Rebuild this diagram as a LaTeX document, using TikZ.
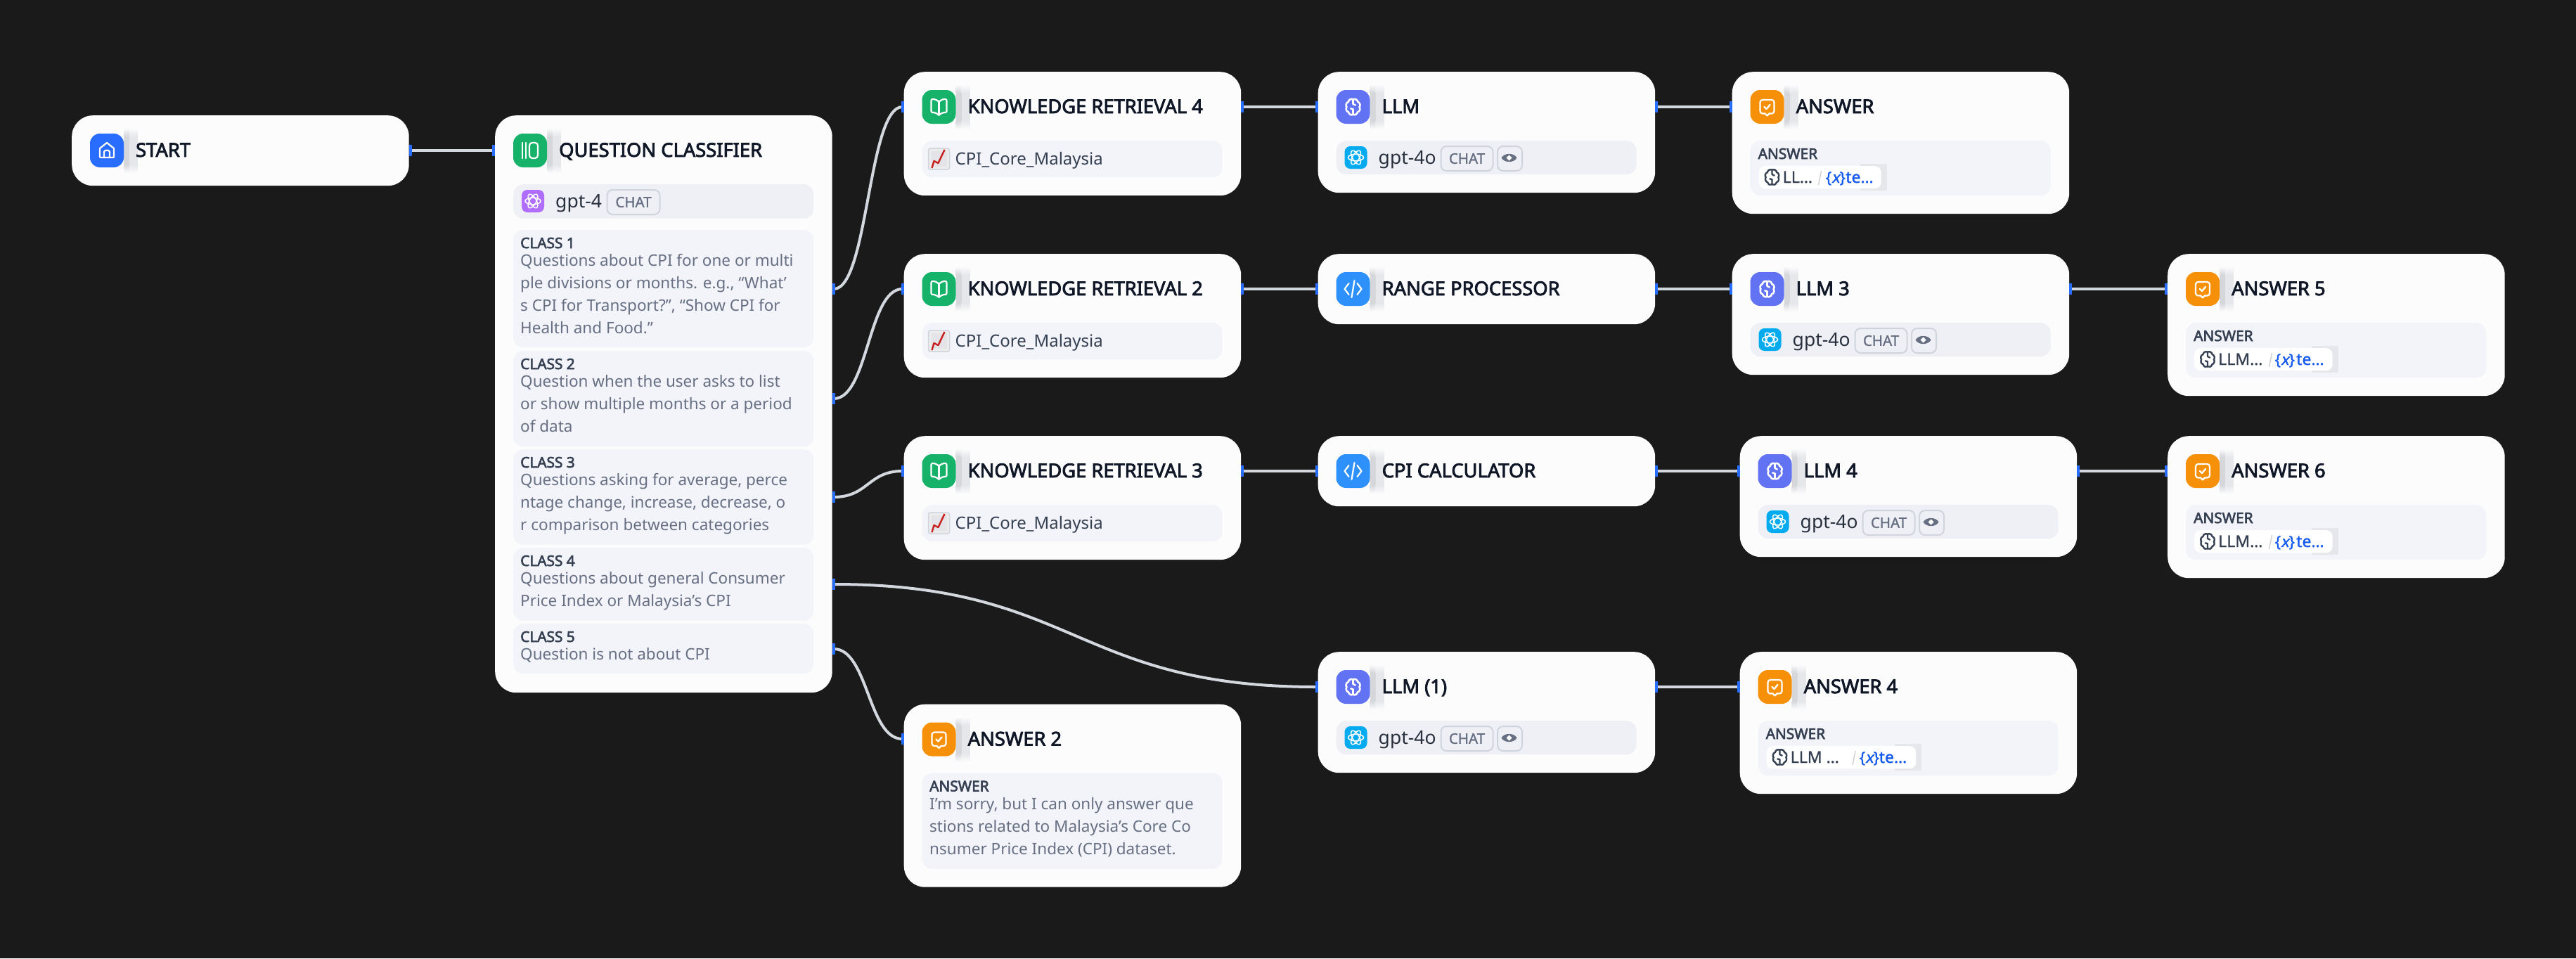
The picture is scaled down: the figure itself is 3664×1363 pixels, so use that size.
\documentclass[tikz,border=0pt]{standalone}
\usepackage{fontspec}
\setmainfont{Noto Sans}
\newfontfamily\semifont{Noto Sans}[FakeBold=3]
\newfontfamily\medfont{Noto Sans}[FakeBold=1.2]
\newfontfamily\slantfont{Noto Sans}[FakeSlant=0.2,FakeBold=1.2]
\usetikzlibrary{calc,backgrounds}
\definecolor{canvas}{HTML}{1A1A1A}
\definecolor{cardc}{HTML}{FCFCFD}
\definecolor{boxc}{HTML}{F3F4F9}
\definecolor{rowc}{HTML}{EFF0F5}
\definecolor{titlec}{HTML}{101828}
\definecolor{labelc}{HTML}{354052}
\definecolor{bodyc}{HTML}{676F83}
\definecolor{wirec}{HTML}{D3D7DE}
\definecolor{handlec}{HTML}{296DFF}
\definecolor{bordc}{HTML}{D0D5DD}
\definecolor{varc}{HTML}{155AEF}
\definecolor{icblue}{HTML}{296DFF}
\definecolor{icgreen}{HTML}{17B26A}
\definecolor{icindigo}{HTML}{6172F3}
\definecolor{iccode}{HTML}{2E90FA}
\definecolor{icorange}{HTML}{F79009}
\definecolor{icpurple}{HTML}{B06EFF}
\definecolor{icsky}{HTML}{02ABF0}
\definecolor{chartred}{HTML}{C8201E}
\definecolor{shadea}{HTML}{D5D7DB}
\definecolor{shadeb}{HTML}{E6E7EA}
\tikzset{
  cardnode/.style={fill=cardc,rounded corners=30pt,minimum width=479.5pt,anchor=north west,inner sep=0pt},
  boxnode/.style={fill=boxc,rounded corners=14pt,minimum width=427pt,anchor=north west,inner sep=0pt},
  rownode/.style={boxnode,fill=rowc},
  iconnode/.style={rounded corners=14pt,minimum width=48pt,minimum height=48pt,inner sep=0pt},
  smallicon/.style={rounded corners=8pt,minimum width=32pt,minimum height=32pt,inner sep=0pt},
  titletext/.style={anchor=base west,inner sep=0pt,text=titlec,font=\fontsize{27.3}{30}\semifont\selectfont},
  labeltext/.style={anchor=base west,inner sep=0pt,text=labelc,font=\fontsize{20.8}{24}\semifont\selectfont},
  bodytext/.style={anchor=north west,inner sep=0pt,align=left,text=bodyc,font=\fontsize{22.5}{32}\selectfont},
  modeltext/.style={anchor=base west,inner sep=0pt,text=titlec!90!white,font=\fontsize{26.5}{30}\selectfont},
  dbtext/.style={anchor=base west,inner sep=0pt,text=labelc,font=\fontsize{24}{30}\selectfont},
  badge/.style={draw=bordc,line width=2pt,rounded corners=8pt,fill=rowc,anchor=north west,inner sep=0pt,minimum height=35pt,text=bodyc,font=\fontsize{20.5}{24}\medfont\selectfont},
  chipnode/.style={fill=white,rounded corners=9pt,anchor=north west,inner sep=0pt,minimum height=32pt},
  handle/.style={fill=handlec,minimum width=4pt,minimum height=16pt,inner sep=0pt},
  wire/.style={draw=wirec,line width=4pt},
  glyph/.style={draw=white,line width=2.2pt,line cap=round,line join=round},
}
% connector: bezier with both control points half-way across
\newcommand\conn[2]{\draw[wire] (#1.center) .. controls ($(#1.center)!0.5!(#2.center |- #1.center)$) and ($(#2.center)!0.5!(#1.center |- #2.center)$) .. (#2.center);}
% glyphs, centred at local origin
\newcommand\ghome{\draw[glyph] (0,-11) -- (-10,-3) -- (-10,8) .. controls (-10,10) .. (-8,10) -- (8,10) .. controls (10,10) .. (10,8) -- (10,-3) -- cycle; \draw[glyph] (-4,10) -- (-4,2) .. controls (-4,-1) and (4,-1) .. (4,2) -- (4,10);}
\newcommand\gclass{\draw[glyph] (-11,-11) -- (-11,11) (-6,-11) -- (-6,11); \draw[glyph,rounded corners=4pt] (-1,-11) rectangle (11,11);}
\newcommand\gbook{\draw[glyph,rounded corners=2pt] (0,-7) -- (-5,-11) -- (-11,-11) -- (-11,8) -- (-5,8) -- (0,12) -- (5,8) -- (11,8) -- (11,-11) -- (5,-11) -- cycle; \draw[glyph] (0,-7) -- (0,12);}
\newcommand\gbrainpath[1]{\draw[#1] (0,-13) .. controls (-5,-15) and (-8,-11) .. (-8,-9) .. controls (-13,-7) and (-13,-1) .. (-11,0) .. controls (-13,3) and (-12,8) .. (-8,9) .. controls (-7,13) and (-3,15) .. (0,13) .. controls (3,15) and (7,13) .. (8,9) .. controls (12,8) and (13,3) .. (11,0) .. controls (13,-1) and (13,-7) .. (8,-9) .. controls (8,-11) and (5,-15) .. (0,-13) -- cycle; \draw[#1] (0,-13) -- (0,-5) -- (4,-3) (-4,3) -- (0,4) -- (0,13);}
\newcommand\gbrain{\begin{scope}[scale=0.82]\gbrainpath{glyph,line width=2.6pt}\end{scope}}
\newcommand\gcode{\draw[glyph] (-6,-8) -- (-12,0) -- (-6,8) (6,-8) -- (12,0) -- (6,8) (2,-12) -- (-2,12);}
\newcommand\ganswer{\draw[glyph,rounded corners=3.5pt] (-3,9.5) -- (-10,9.5) -- (-10,-10) -- (10,-10) -- (10,9.5) -- (3,9.5); \draw[glyph] (-3,9.5) -- (0,12.5) -- (3,9.5); \draw[glyph,line width=2.4pt] (-4,0) -- (-1,3) -- (4,-3);}
\newcommand\gknot{\foreach \a in {0,60,120}{\draw[white,line width=1.5pt,rotate=\a] (0,0) ellipse [x radius=11,y radius=4.8];}}
\newcommand\gdb{\draw[bordc,fill=gray!15,rounded corners=3pt,line width=1.5pt] (-15,-15) rectangle (15,15);
  \fill[white!85!blue!40!gray!30] (-11,-11) rectangle (11,11);
  \draw[chartred,line width=2.4pt,line join=round] (-10,13) -- (-7,3) -- (-1,6) -- (8,-13);}
% the soft band beside an icon, fading at both ends
\newcommand\softband[3]{\shade[top color=cardc,bottom color=#3,draw=none] (#1,18) rectangle (#2,30);
  \fill[#3] (#1,30) rectangle (#2,70);
  \shade[top color=#3,bottom color=cardc,draw=none] (#1,70) rectangle (#2,82);}
% card: name, x, y, height, icon colour, glyph, title
\newcommand\cardbox[7]{\node[cardnode,minimum height=#4pt] (#1) at (#2,#3) {};
  \begin{scope}[shift={(#2,#3)}]
  \softband{74}{82}{shadea}\softband{82}{94}{shadeb}
  \node[iconnode,fill=#5] (#1-icon) at (50,50) {};
  \begin{scope}[shift={(50,50)}] #6 \end{scope}
  \node[titletext] (#1-title) at (91,59) {#7};
  \end{scope}}
\newcommand\handleat[3]{\node[handle] (#1) at (#2,#3) {};}
% knowledge row
\newcommand\dbrow[3]{\begin{scope}[shift={(#2,#3)}]
  \node[boxnode,minimum height=52pt] (#1-row) at (26,98) {};
  \begin{scope}[shift={(50,124)}] \gdb \end{scope}
  \node[dbtext] (#1-db) at (73,132) {CPI\_Core\_Malaysia};
  \end{scope}}
% model row with eye badge
\newcommand\llmrow[3]{\begin{scope}[shift={(#2,#3)}]
  \node[rownode,minimum height=48pt] (#1-row) at (26,98) {};
  \node[smallicon,fill=icsky] (#1-micon) at (54,122) {};
  \begin{scope}[shift={(54,122)}] \gknot \end{scope}
  \node[modeltext] (#1-model) at (86,131) {gpt-4o};
  \node[badge,minimum width=74pt] (#1-chat) at (174,105) {CHAT};
  \node[badge,minimum width=35pt] (#1-eye) at (254.5,105) {};
  \fill[bodyc] (261,122.5) .. controls (265,115) and (279,115) .. (283,122.5) .. controls (279,130) and (265,130) .. (261,122.5) -- cycle;
  \fill[white] (272,118.5) -- (276,122.5) -- (272,126.5) -- (268,122.5) -- cycle;
  \end{scope}}
% answer row: name, x, y, chip width, text, slash x, var x, te x
\newcommand\ansrow[8]{\begin{scope}[shift={(#2,#3)}]
  \node[boxnode,minimum height=78pt] (#1-row) at (26,98) {};
  \node[labeltext] (#1-label) at (37,124) {ANSWER};
  \fill[shadeb] (#4-30,131) rectangle (#4+8,169);
  \node[chipnode,minimum width=#4pt-38pt] (#1-chip) at (38,134) {};
  \begin{scope}[shift={(57,150)},scale=0.8] \gbrainpath{draw=labelc,line width=2.4pt,line cap=round,line join=round} \end{scope}
  \node[anchor=base west,inner sep=0pt,text=labelc,font=\fontsize{23}{28}\medfont\selectfont] (#1-var) at (72,158) {#5};
  \draw[gray!35,line width=1.5pt] (#6+2,141) -- (#6-2,161);
  \node[anchor=base west,inner sep=0pt,text=varc,font=\fontsize{22}{28}\medfont\selectfont] (#1-x) at (#7,158) {\{{\slantfont x}\}};
  \node[anchor=base west,inner sep=0pt,text=varc,font=\fontsize{23}{28}\medfont\selectfont] (#1-te) at (#8,158) {te…};
  \end{scope}}
\begin{document}
\begin{tikzpicture}[x=1pt,y=-1pt]
\useasboundingbox (0,0) rectangle (3664,1363);
\begin{scope}[on background layer]
\fill[canvas] (0,0) rectangle (3664,1363);
\end{scope}

% ---- START
\cardbox{start}{102}{164}{100}{icblue}{\ghome}{START}
\handleat{startout}{584}{214}

% ---- QUESTION CLASSIFIER
\cardbox{qc}{704}{164}{821}{icgreen}{\gclass}{QUESTION CLASSIFIER}
\handleat{qcin}{702}{214}
\begin{scope}[shift={(704,164)}]
  \node[rownode,minimum height=48.5pt] (qc-row) at (26,98) {};
  \node[smallicon,fill=icpurple] (qc-micon) at (54,122) {};
  \begin{scope}[shift={(54,122)}] \gknot \end{scope}
  \node[modeltext] (qc-model) at (86,131) {gpt-4};
  \node[badge,minimum width=75pt] (qc-chat) at (158.5,105) {CHAT};
\end{scope}
\node[boxnode,minimum height=167pt] (c1) at (730,327) {};
\node[labeltext] (c1l) at (740,353) {CLASS 1};
\node[bodytext] (c1t) at (740,356) {\strut Questions about CPI for one or multi\\\strut ple divisions or months. e.g., “What’\\\strut s CPI for Transport?”, “Show CPI for\\\strut Health and Food.”};
\node[boxnode,minimum height=136pt] (c2) at (730,499) {};
\node[labeltext] (c2l) at (740,525) {CLASS 2};
\node[bodytext] (c2t) at (740,528) {\strut Question when the user asks to list\\\strut or show multiple months or a period\\\strut of data};
\node[boxnode,minimum height=135.5pt] (c3) at (730,639) {};
\node[labeltext] (c3l) at (740,665) {CLASS 3};
\node[bodytext] (c3t) at (740,668) {\strut Questions asking for average, perce\\\strut ntage change, increase, decrease, o\\\strut r comparison between categories};
\node[boxnode,minimum height=103.5pt] (c4) at (730,779) {};
\node[labeltext] (c4l) at (740,805) {CLASS 4};
\node[bodytext] (c4t) at (740,808) {\strut Questions about general Consumer\\\strut Price Index or Malaysia's CPI};
\node[boxnode,minimum height=71pt] (c5) at (730,887) {};
\node[labeltext] (c5l) at (740,913) {CLASS 5};
\node[bodytext] (c5t) at (740,916) {\strut Question is not about CPI};
\handleat{c1out}{1186}{411}
\handleat{c2out}{1186}{567}
\handleat{c3out}{1186}{707}
\handleat{c4out}{1186}{831}
\handleat{c5out}{1186}{923}

% ---- KNOWLEDGE RETRIEVAL
\cardbox{kr4}{1285.5}{102}{176}{icgreen}{\gbook}{KNOWLEDGE RETRIEVAL 4}
\dbrow{kr4}{1285.5}{102}
\handleat{kr4in}{1283.5}{152}\handleat{kr4out}{1767}{152}
\cardbox{kr2}{1285.5}{361}{176}{icgreen}{\gbook}{KNOWLEDGE RETRIEVAL 2}
\dbrow{kr2}{1285.5}{361}
\handleat{kr2in}{1283.5}{411}\handleat{kr2out}{1767}{411}
\cardbox{kr3}{1285.5}{620}{176}{icgreen}{\gbook}{KNOWLEDGE RETRIEVAL 3}
\dbrow{kr3}{1285.5}{620}
\handleat{kr3in}{1283.5}{670}\handleat{kr3out}{1767}{670}

% ---- ANSWER 2
\cardbox{a2}{1285.5}{1001.5}{260}{icorange}{\ganswer}{ANSWER 2}
\handleat{a2in}{1283.5}{1051}
\node[boxnode,minimum height=136pt] (a2-row) at (1311.5,1099.5) {};
\node[labeltext] (a2-label) at (1322,1125.5) {ANSWER};
\node[bodytext] (a2-text) at (1322,1128.5) {\strut I'm sorry, but I can only answer que\\\strut stions related to Malaysia’s Core Co\\\strut nsumer Price Index (CPI) dataset.};

% ---- LLM
\cardbox{llm}{1874.5}{102}{172}{icindigo}{\gbrain}{LLM}
\llmrow{llm}{1874.5}{102}
\handleat{llmin}{1872.5}{152}\handleat{llmout}{2356}{152}
\cardbox{rp}{1874.5}{361}{100}{iccode}{\gcode}{RANGE PROCESSOR}
\handleat{rpin}{1872.5}{411}\handleat{rpout}{2356}{411}
\cardbox{calc}{1874.5}{620}{100}{iccode}{\gcode}{CPI CALCULATOR}
\handleat{calcin}{1872.5}{670}\handleat{calcout}{2356}{670}
\cardbox{llm1}{1874.5}{927}{172}{icindigo}{\gbrain}{LLM (1)}
\llmrow{llm1}{1874.5}{927}
\handleat{llm1in}{1872.5}{977}\handleat{llm1out}{2356}{977}

% ---- third column
\cardbox{ans}{2463.5}{102}{202}{icorange}{\ganswer}{ANSWER}
\ansrow{ans}{2463.5}{102}{212}{LL…}{125}{133}{161.5}
\handleat{ansin}{2461.5}{152}
\cardbox{llm3}{2463.5}{361}{172}{icindigo}{\gbrain}{LLM 3}
\llmrow{llm3}{2463.5}{361}
\handleat{llm3in}{2461.5}{411}\handleat{llm3out}{2945}{411}
\cardbox{llm4}{2474.5}{620}{172}{icindigo}{\gbrain}{LLM 4}
\llmrow{llm4}{2474.5}{620}
\handleat{llm4in}{2472.5}{670}\handleat{llm4out}{2956}{670}
\cardbox{ans4}{2474.5}{927}{202}{icorange}{\ganswer}{ANSWER 4}
\ansrow{ans4}{2474.5}{927}{250.5}{LLM …}{162.5}{170}{198}
\handleat{ans4in}{2472.5}{977}

% ---- last column
\cardbox{ans5}{3083}{361}{202}{icorange}{\ganswer}{ANSWER 5}
\ansrow{ans5}{3083}{361}{234.5}{LLM…}{146.5}{152.5}{183}
\handleat{ans5in}{3081}{411}
\cardbox{ans6}{3083}{620}{202}{icorange}{\ganswer}{ANSWER 6}
\ansrow{ans6}{3083}{620}{234.5}{LLM…}{146.5}{152.5}{183}
\handleat{ans6in}{3081}{670}

% ---- connectors
\begin{scope}[on background layer]
\conn{startout}{qcin}
\conn{c1out}{kr4in}
\conn{c2out}{kr2in}
\conn{c3out}{kr3in}
\conn{c4out}{llm1in}
\conn{c5out}{a2in}
\conn{kr4out}{llmin}
\conn{kr2out}{rpin}
\conn{kr3out}{calcin}
\conn{llmout}{ansin}
\conn{rpout}{llm3in}
\conn{calcout}{llm4in}
\conn{llm3out}{ans5in}
\conn{llm4out}{ans6in}
\conn{llm1out}{ans4in}
\end{scope}
\end{tikzpicture}
\end{document}
